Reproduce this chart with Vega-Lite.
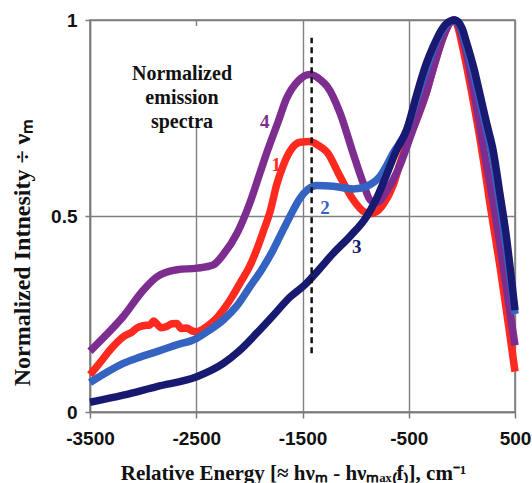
{
  "$schema": "https://vega.github.io/schema/vega-lite/v6.json",
  "width": 425,
  "height": 392,
  "autosize": {"type": "none"},
  "padding": {"left": 90, "top": 20, "right": 17, "bottom": 71},
  "background": "white",
  "config": {"view": {"stroke": "#7a7a7a", "strokeWidth": 1.5}},
  "datasets": {
    "box": [{"energy": -3150, "energy2": -2130, "intensity": 0.75, "intensity2": 0.985}],
    "spectra": [
      {"curve": "1", "energy": -3500, "intensity": 0.095},
      {"curve": "1", "energy": -3400, "intensity": 0.128},
      {"curve": "1", "energy": -3312, "intensity": 0.158},
      {"curve": "1", "energy": -3186, "intensity": 0.192},
      {"curve": "1", "energy": -3100, "intensity": 0.205},
      {"curve": "1", "energy": -3060, "intensity": 0.214},
      {"curve": "1", "energy": -3000, "intensity": 0.22},
      {"curve": "1", "energy": -2935, "intensity": 0.222},
      {"curve": "1", "energy": -2900, "intensity": 0.232},
      {"curve": "1", "energy": -2872, "intensity": 0.225},
      {"curve": "1", "energy": -2830, "intensity": 0.215},
      {"curve": "1", "energy": -2778, "intensity": 0.218},
      {"curve": "1", "energy": -2730, "intensity": 0.225},
      {"curve": "1", "energy": -2684, "intensity": 0.226},
      {"curve": "1", "energy": -2640, "intensity": 0.213},
      {"curve": "1", "energy": -2590, "intensity": 0.214},
      {"curve": "1", "energy": -2540, "intensity": 0.207},
      {"curve": "1", "energy": -2496, "intensity": 0.205},
      {"curve": "1", "energy": -2402, "intensity": 0.218},
      {"curve": "1", "energy": -2320, "intensity": 0.236},
      {"curve": "1", "energy": -2245, "intensity": 0.261},
      {"curve": "1", "energy": -2160, "intensity": 0.295},
      {"curve": "1", "energy": -2088, "intensity": 0.329},
      {"curve": "1", "energy": -2000, "intensity": 0.37},
      {"curve": "1", "energy": -1931, "intensity": 0.414},
      {"curve": "1", "energy": -1870, "intensity": 0.46},
      {"curve": "1", "energy": -1806, "intensity": 0.51},
      {"curve": "1", "energy": -1743, "intensity": 0.58},
      {"curve": "1", "energy": -1680, "intensity": 0.63},
      {"curve": "1", "energy": -1618, "intensity": 0.665},
      {"curve": "1", "energy": -1524, "intensity": 0.688},
      {"curve": "1", "energy": -1430, "intensity": 0.69},
      {"curve": "1", "energy": -1350, "intensity": 0.68},
      {"curve": "1", "energy": -1269, "intensity": 0.663},
      {"curve": "1", "energy": -1147, "intensity": 0.601},
      {"curve": "1", "energy": -1022, "intensity": 0.541},
      {"curve": "1", "energy": -928, "intensity": 0.512},
      {"curve": "1", "energy": -865, "intensity": 0.506},
      {"curve": "1", "energy": -800, "intensity": 0.512},
      {"curve": "1", "energy": -740, "intensity": 0.53},
      {"curve": "1", "energy": -645, "intensity": 0.58},
      {"curve": "1", "energy": -582, "intensity": 0.635},
      {"curve": "1", "energy": -488, "intensity": 0.705},
      {"curve": "1", "energy": -427, "intensity": 0.745},
      {"curve": "1", "energy": -340, "intensity": 0.81},
      {"curve": "1", "energy": -272, "intensity": 0.874},
      {"curve": "1", "energy": -178, "intensity": 0.955},
      {"curve": "1", "energy": -120, "intensity": 0.99},
      {"curve": "1", "energy": -80, "intensity": 1.0},
      {"curve": "1", "energy": -40, "intensity": 0.985},
      {"curve": "1", "energy": -2, "intensity": 0.942},
      {"curve": "1", "energy": 93, "intensity": 0.814},
      {"curve": "1", "energy": 202, "intensity": 0.644},
      {"curve": "1", "energy": 262, "intensity": 0.535},
      {"curve": "1", "energy": 359, "intensity": 0.371},
      {"curve": "1", "energy": 440, "intensity": 0.22},
      {"curve": "1", "energy": 500, "intensity": 0.103},

      {"curve": "4", "energy": -3500, "intensity": 0.155},
      {"curve": "4", "energy": -3350, "intensity": 0.196},
      {"curve": "4", "energy": -3189, "intensity": 0.243},
      {"curve": "4", "energy": -3001, "intensity": 0.31},
      {"curve": "4", "energy": -2869, "intensity": 0.345},
      {"curve": "4", "energy": -2681, "intensity": 0.363},
      {"curve": "4", "energy": -2493, "intensity": 0.367},
      {"curve": "4", "energy": -2342, "intensity": 0.375},
      {"curve": "4", "energy": -2248, "intensity": 0.401},
      {"curve": "4", "energy": -2116, "intensity": 0.456},
      {"curve": "4", "energy": -2000, "intensity": 0.53},
      {"curve": "4", "energy": -1900, "intensity": 0.61},
      {"curve": "4", "energy": -1825, "intensity": 0.67},
      {"curve": "4", "energy": -1730, "intensity": 0.74},
      {"curve": "4", "energy": -1650, "intensity": 0.8},
      {"curve": "4", "energy": -1540, "intensity": 0.845},
      {"curve": "4", "energy": -1430, "intensity": 0.861},
      {"curve": "4", "energy": -1320, "intensity": 0.845},
      {"curve": "4", "energy": -1269, "intensity": 0.831},
      {"curve": "4", "energy": -1147, "intensity": 0.763},
      {"curve": "4", "energy": -1025, "intensity": 0.661},
      {"curve": "4", "energy": -930, "intensity": 0.585},
      {"curve": "4", "energy": -860, "intensity": 0.54},
      {"curve": "4", "energy": -800, "intensity": 0.535},
      {"curve": "4", "energy": -705, "intensity": 0.565},
      {"curve": "4", "energy": -582, "intensity": 0.63},
      {"curve": "4", "energy": -488, "intensity": 0.7},
      {"curve": "4", "energy": -427, "intensity": 0.745},
      {"curve": "4", "energy": -340, "intensity": 0.81},
      {"curve": "4", "energy": -272, "intensity": 0.874},
      {"curve": "4", "energy": -178, "intensity": 0.955},
      {"curve": "4", "energy": -120, "intensity": 0.99},
      {"curve": "4", "energy": -80, "intensity": 1.0},
      {"curve": "4", "energy": -30, "intensity": 0.985},
      {"curve": "4", "energy": 20, "intensity": 0.942},
      {"curve": "4", "energy": 114, "intensity": 0.814},
      {"curve": "4", "energy": 223, "intensity": 0.644},
      {"curve": "4", "energy": 295, "intensity": 0.535},
      {"curve": "4", "energy": 385, "intensity": 0.38},
      {"curve": "4", "energy": 450, "intensity": 0.26},
      {"curve": "4", "energy": 500, "intensity": 0.17},

      {"curve": "2", "energy": -3500, "intensity": 0.075},
      {"curve": "2", "energy": -3350, "intensity": 0.1},
      {"curve": "2", "energy": -3187, "intensity": 0.124},
      {"curve": "2", "energy": -3030, "intensity": 0.14},
      {"curve": "2", "energy": -2872, "intensity": 0.154},
      {"curve": "2", "energy": -2700, "intensity": 0.17},
      {"curve": "2", "energy": -2496, "intensity": 0.188},
      {"curve": "2", "energy": -2380, "intensity": 0.208},
      {"curve": "2", "energy": -2245, "intensity": 0.235},
      {"curve": "2", "energy": -2120, "intensity": 0.27},
      {"curve": "2", "energy": -1994, "intensity": 0.32},
      {"curve": "2", "energy": -1880, "intensity": 0.365},
      {"curve": "2", "energy": -1775, "intensity": 0.414},
      {"curve": "2", "energy": -1700, "intensity": 0.455},
      {"curve": "2", "energy": -1618, "intensity": 0.499},
      {"curve": "2", "energy": -1524, "intensity": 0.545},
      {"curve": "2", "energy": -1450, "intensity": 0.568},
      {"curve": "2", "energy": -1366, "intensity": 0.578},
      {"curve": "2", "energy": -1210, "intensity": 0.576},
      {"curve": "2", "energy": -1022, "intensity": 0.569},
      {"curve": "2", "energy": -896, "intensity": 0.576},
      {"curve": "2", "energy": -771, "intensity": 0.601},
      {"curve": "2", "energy": -645, "intensity": 0.661},
      {"curve": "2", "energy": -519, "intensity": 0.72},
      {"curve": "2", "energy": -425, "intensity": 0.8},
      {"curve": "2", "energy": -340, "intensity": 0.87},
      {"curve": "2", "energy": -269, "intensity": 0.925},
      {"curve": "2", "energy": -180, "intensity": 0.975},
      {"curve": "2", "energy": -112, "intensity": 0.995},
      {"curve": "2", "energy": -65, "intensity": 1.0},
      {"curve": "2", "energy": -10, "intensity": 0.98},
      {"curve": "2", "energy": 35, "intensity": 0.94},
      {"curve": "2", "energy": 100, "intensity": 0.875},
      {"curve": "2", "energy": 161, "intensity": 0.805},
      {"curve": "2", "energy": 220, "intensity": 0.735},
      {"curve": "2", "energy": 286, "intensity": 0.655},
      {"curve": "2", "energy": 349, "intensity": 0.545},
      {"curve": "2", "energy": 410, "intensity": 0.435},
      {"curve": "2", "energy": 452, "intensity": 0.35},
      {"curve": "2", "energy": 500, "intensity": 0.25},

      {"curve": "3", "energy": -3500, "intensity": 0.025},
      {"curve": "3", "energy": -3187, "intensity": 0.043},
      {"curve": "3", "energy": -2872, "intensity": 0.065},
      {"curve": "3", "energy": -2496, "intensity": 0.09},
      {"curve": "3", "energy": -2245, "intensity": 0.124},
      {"curve": "3", "energy": -2100, "intensity": 0.155},
      {"curve": "3", "energy": -1931, "intensity": 0.201},
      {"curve": "3", "energy": -1780, "intensity": 0.245},
      {"curve": "3", "energy": -1618, "intensity": 0.293},
      {"curve": "3", "energy": -1476, "intensity": 0.325},
      {"curve": "3", "energy": -1340, "intensity": 0.365},
      {"curve": "3", "energy": -1210, "intensity": 0.405},
      {"curve": "3", "energy": -1053, "intensity": 0.448},
      {"curve": "3", "energy": -896, "intensity": 0.499},
      {"curve": "3", "energy": -820, "intensity": 0.535},
      {"curve": "3", "energy": -740, "intensity": 0.584},
      {"curve": "3", "energy": -613, "intensity": 0.669},
      {"curve": "3", "energy": -519, "intensity": 0.72},
      {"curve": "3", "energy": -425, "intensity": 0.81},
      {"curve": "3", "energy": -340, "intensity": 0.885},
      {"curve": "3", "energy": -269, "intensity": 0.933},
      {"curve": "3", "energy": -180, "intensity": 0.98},
      {"curve": "3", "energy": -112, "intensity": 0.997},
      {"curve": "3", "energy": -65, "intensity": 1.0},
      {"curve": "3", "energy": 0, "intensity": 0.98},
      {"curve": "3", "energy": 45, "intensity": 0.942},
      {"curve": "3", "energy": 110, "intensity": 0.88},
      {"curve": "3", "energy": 171, "intensity": 0.81},
      {"curve": "3", "energy": 230, "intensity": 0.74},
      {"curve": "3", "energy": 296, "intensity": 0.665},
      {"curve": "3", "energy": 359, "intensity": 0.555},
      {"curve": "3", "energy": 420, "intensity": 0.445},
      {"curve": "3", "energy": 460, "intensity": 0.355},
      {"curve": "3", "energy": 500, "intensity": 0.26}
    ],
    "labels": [
      {"curve": "4", "label": "4", "energy": -1855, "intensity": 0.74},
      {"curve": "1", "label": "1", "energy": -1747, "intensity": 0.631},
      {"curve": "2", "label": "2", "energy": -1288, "intensity": 0.52},
      {"curve": "3", "label": "3", "energy": -990, "intensity": 0.422}
    ],
    "marker": [{"energy": -1414, "intensity": 0.15, "intensity2": 0.955}],
    "note": [{"energy": -2634, "intensity": 0.862, "label": "Normalized|emission|spectra"}]
  },
  "layer": [
    {
      "data": {"name": "box"},
      "mark": {"type": "rect", "fill": "white"},
      "encoding": {
        "x": {"field": "energy", "type": "quantitative"},
        "x2": {"field": "energy2"},
        "y": {"field": "intensity", "type": "quantitative"},
        "y2": {"field": "intensity2"}
      }
    },
    {
      "data": {"name": "spectra"},
      "mark": {"type": "line", "strokeWidth": 7.5, "interpolate": "monotone", "strokeCap": "butt", "strokeJoin": "round"},
      "encoding": {
        "x": {
          "field": "energy", "type": "quantitative",
          "scale": {"domain": [-3500, 500], "nice": false, "zero": false},
          "axis": {
            "values": [-3500, -2500, -1500, -500, 500],
            "labelExpr": "'' + datum.value",
            "grid": true, "gridColor": "#808080", "gridWidth": 1.4, "gridOpacity": 1,
            "domainColor": "#7a7a7a", "domainWidth": 1.5,
            "tickColor": "#7a7a7a", "tickWidth": 1.5, "tickSize": 6,
            "labelFont": "Liberation Sans", "labelFontWeight": "bold", "labelFontSize": 19, "labelColor": "#111",
            "labelPadding": 11, "labelFlush": false, "labelOverlap": false,
            "title": "Relative Energy  [≈ hνₘ - hνₘₐₓ₍f₎], cm⁻¹",
            "titleFont": "Liberation Serif", "titleFontWeight": "bold", "titleFontSize": 21, "titleColor": "#111",
            "titleX": 203, "titleY": 61, "titleAlign": "center", "titleBaseline": "middle"
          }
        },
        "y": {
          "field": "intensity", "type": "quantitative",
          "scale": {"domain": [0, 1], "nice": false},
          "axis": {
            "values": [0, 0.5, 1],
            "labelExpr": "'' + datum.value",
            "grid": true, "gridColor": "#808080", "gridWidth": 1.4, "gridOpacity": 1,
            "domainColor": "#7a7a7a", "domainWidth": 1.5,
            "tickColor": "#7a7a7a", "tickWidth": 1.5, "tickSize": 5,
            "labelFont": "Liberation Sans", "labelFontWeight": "bold", "labelFontSize": 19, "labelColor": "#111",
            "labelPadding": 8, "labelFlush": false, "labelOverlap": false,
            "title": "Normalized  Intnesity ÷ νₘ",
            "titleFont": "Liberation Serif", "titleFontWeight": "bold", "titleFontSize": 24, "titleColor": "#111",
            "titleX": -68, "titleY": 232, "titleAlign": "center", "titleBaseline": "middle", "titleAngle": -90
          }
        },
        "color": {
          "field": "curve", "type": "nominal",
          "scale": {"domain": ["1", "4", "2", "3"], "range": ["#ff2a1f", "#7d2d8f", "#3563c2", "#171a70"]},
          "legend": null
        }
      }
    },
    {
      "data": {"name": "marker"},
      "mark": {"type": "rule", "color": "#111", "strokeWidth": 2.5, "strokeDash": [6, 4]},
      "encoding": {
        "x": {"field": "energy", "type": "quantitative"},
        "y": {"field": "intensity", "type": "quantitative"},
        "y2": {"field": "intensity2"}
      }
    },
    {
      "data": {"name": "labels"},
      "mark": {"type": "text", "font": "Liberation Serif", "fontWeight": "bold", "fontSize": 19, "align": "center", "baseline": "middle"},
      "encoding": {
        "x": {"field": "energy", "type": "quantitative"},
        "y": {"field": "intensity", "type": "quantitative"},
        "text": {"field": "label"},
        "color": {"field": "curve", "type": "nominal", "legend": null}
      }
    },
    {
      "data": {"name": "note"},
      "mark": {"type": "text", "font": "Liberation Serif", "fontWeight": "bold", "fontSize": 20, "align": "center", "baseline": "middle", "lineBreak": "|", "lineHeight": 24, "color": "#111"},
      "encoding": {
        "x": {"field": "energy", "type": "quantitative"},
        "y": {"field": "intensity", "type": "quantitative"},
        "text": {"field": "label"}
      }
    }
  ]
}
